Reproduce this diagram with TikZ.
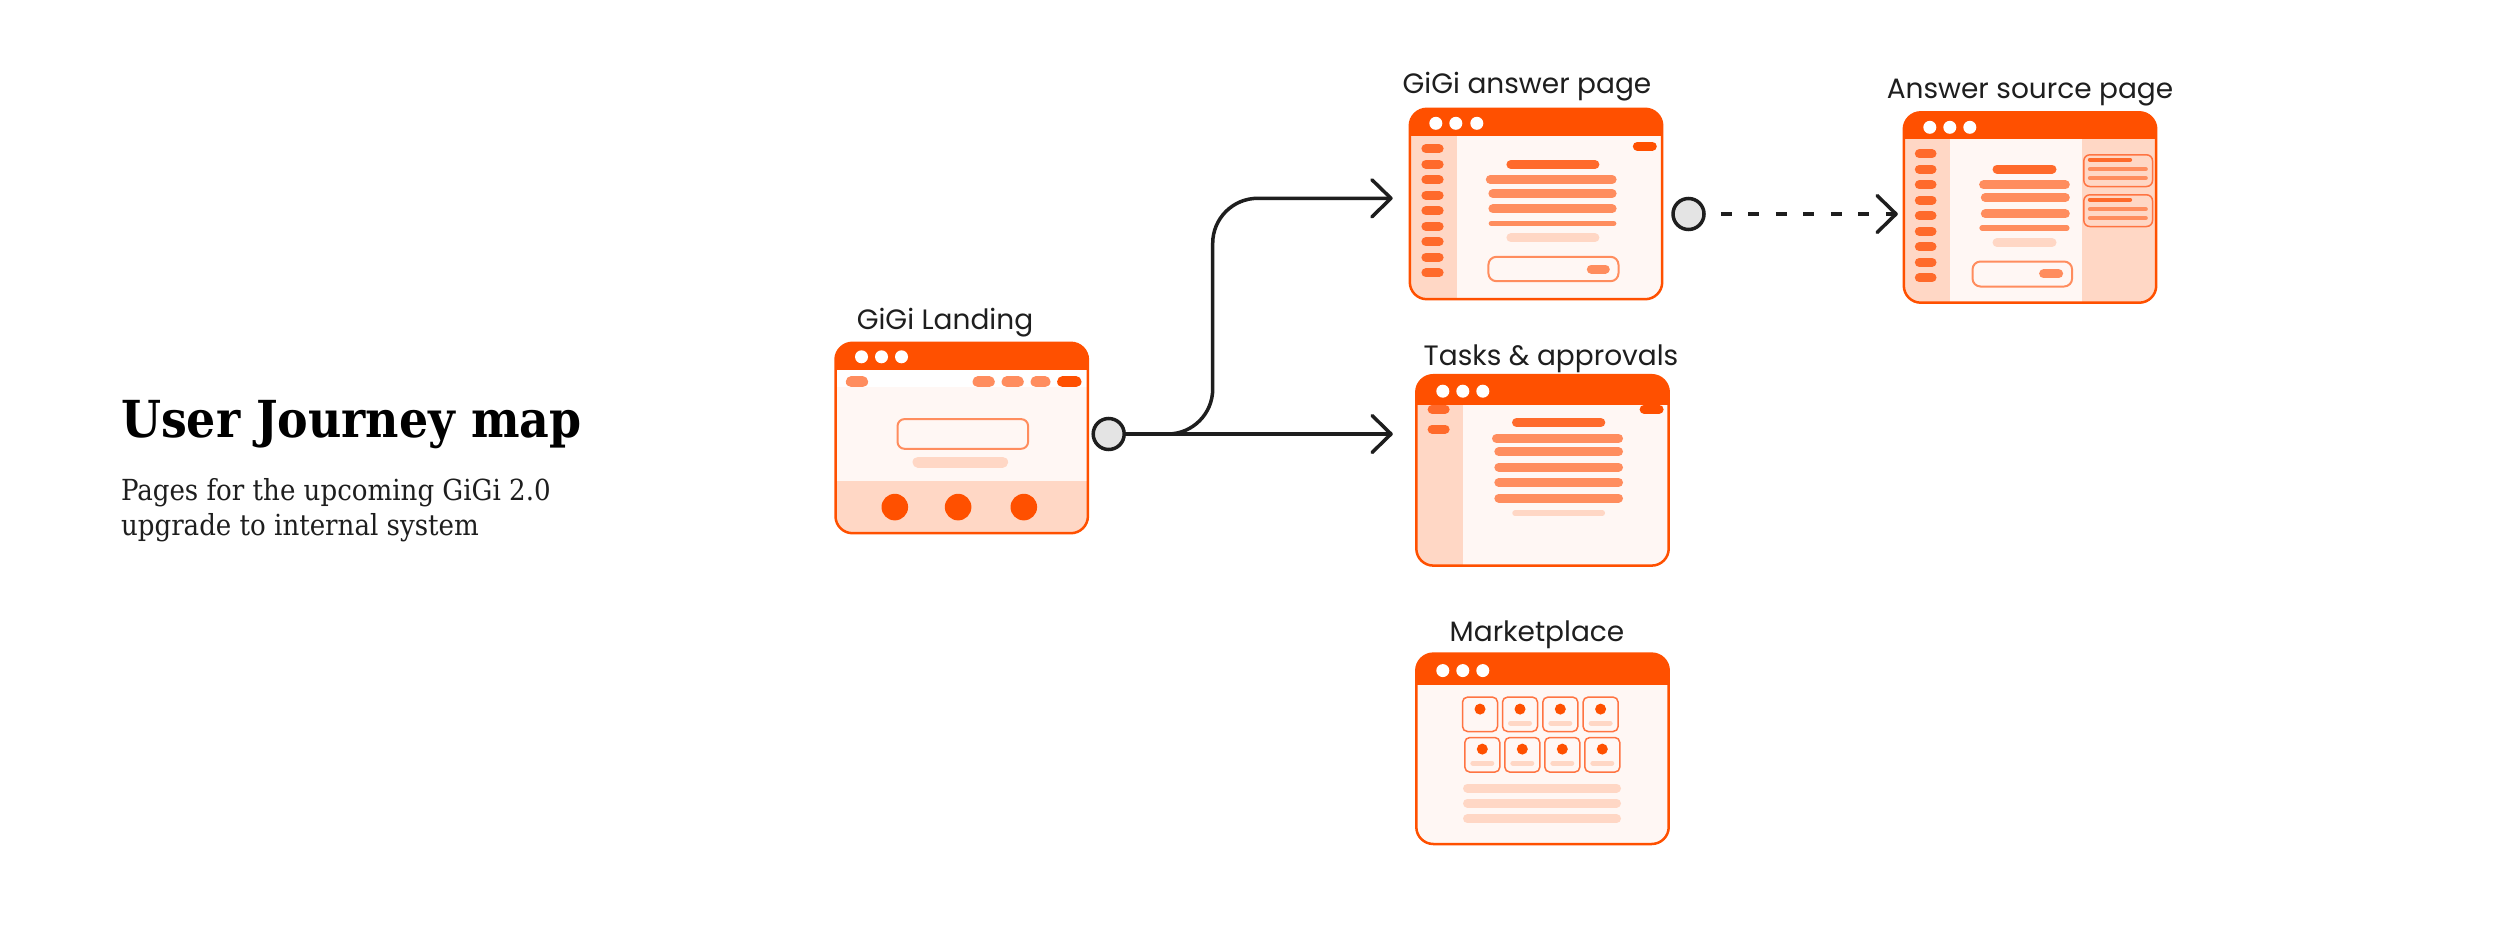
\documentclass[tikz,border=0pt]{standalone}
\usepackage{fontspec}
\setmainfont{Poppins}
\newfontfamily\headfont{DejaVu Serif Condensed}
\usetikzlibrary{arrows.meta, positioning}

\definecolor{brand}{HTML}{FF5000}
\definecolor{pilldark}{HTML}{FF6A2B}
\definecolor{pillmid}{HTML}{FF8D5E}
\definecolor{cardline}{HTML}{FF7442}
\definecolor{peach}{HTML}{FFD7C5}
\definecolor{paper}{HTML}{FFF7F4}
\definecolor{hubgrey}{HTML}{E4E4E4}
\definecolor{ink}{HTML}{1E1E1E}

\tikzstyle{page} = [rectangle, rounded corners=17pt, fill=paper, minimum width=252pt, minimum height=190pt, inner sep=0pt]
\tikzstyle{page-border} = [draw=brand, line width=2.5pt, rounded corners=17pt]
\tikzstyle{page-title} = [anchor=base, font=\fontsize{28}{30}\selectfont, text=ink]
\tikzstyle{hub} = [circle, draw=ink, line width=3.5pt, fill=hubgrey, minimum size=31pt, inner sep=0pt]
\tikzstyle{flow} = [draw=ink, line width=3.5pt, -{Straight Barb[length=19pt, width=37pt, round]}]
\tikzstyle{flow-dashed} = [flow, dash pattern=on 11pt off 16.5pt]
\tikzstyle{pill} = [line cap=round, line width=9pt]
\tikzstyle{thin-pill} = [line cap=round, line width=5.5pt]
\tikzstyle{box} = [draw=pillmid, line width=2pt, fill=paper, rounded corners=8pt]

\begin{document}
\begin{tikzpicture}[x=1pt, y=-1pt]
        \fill[white] (0,0) rectangle (2500,931);
        \useasboundingbox (0,0) rectangle (2500,931);

        % heading
        \node[anchor=base west, font=\headfont\bfseries\fontsize{51}{55}\selectfont, text=black] (heading) at (117.5,437) {User Journey map};
        \node[anchor=base west, align=left, font=\headfont\fontsize{29}{35}\selectfont, text=ink] (subheading) at (117.5,535) {Pages for the upcoming GiGi 2.0\\upgrade to internal system};

        % GiGi landing
        \node[page] (landing) at (961.7,438) {};
        \node[page-title] (landing-title) at (945,329.3) {GiGi Landing};
        \begin{scope}[shift={(landing.north west)}]
                \clip[rounded corners=17pt] (0,0) rectangle (252,190);
                \fill[white] (0,27) rectangle (252,44);
                \fill[peach] (0,138) rectangle (252,190);
                \fill[brand] (0,0) rectangle (252,27);
                \foreach \dx in {26,46,66} \fill[white] (\dx,14) circle (6.5pt);
                \draw[pill, line width=11pt, pillmid] (15.8,39) -- (27.1,39);
                \foreach \a/\b in {142.5/153.8, 171.5/182.8, 200.5/209.5}
                        \draw[pill, line width=11pt, pillmid] (\a,39) -- (\b,39);
                \draw[pill, line width=11pt, brand] (227.1,39) -- (240.5,39);
                \draw[box, rounded corners=7pt] (62,76.3) rectangle (192.6,106);
                \draw[pill, line width=11pt, peach] (82.5,119.2) -- (167.1,119.2);
                \foreach \cx in {59.3,122.6,188.3} \fill[brand] (\cx,164.3) circle (13.3pt);
        \end{scope}
        \draw[page-border] (landing.north west) rectangle (landing.south east);

        % GiGi answer page
        \node[page] (answer) at (1536,204) {};
        \node[page-title] (answer-title) at (1527,93.3) {GiGi answer page};
        \begin{scope}[shift={(answer.north west)}]
                \clip[rounded corners=17pt] (0,0) rectangle (252,190);
                \fill[peach] (0,27) rectangle (47,190);
                \fill[brand] (0,0) rectangle (252,27);
                \foreach \dx in {26,46,67} \fill[white] (\dx,14.5) circle (6.5pt);
                \foreach \k in {0,...,8}
                        \draw[pill, pilldark] (16.1,{40+15.5*\k}) -- (29.3,{40+15.5*\k});
                \draw[pill, brand] (227.5,37.4) -- (242.5,37.4);
                \draw[pill, pilldark] (101.1,55.7) -- (185.1,55.7);
                \draw[pill, pillmid] (80.5,70.7) -- (202.3,70.7);
                \foreach \y in {84.7,100} \draw[pill, pillmid] (83.1,\y) -- (202.3,\y);
                \draw[thin-pill, pillmid] (81.6,114.7) -- (203.8,114.7);
                \draw[pill, peach] (101.1,129) -- (185.1,129);
                \draw[box] (78.6,148) rectangle (208.7,172.4);
                \draw[pill, pillmid] (181.5,160.2) -- (195.5,160.2);
        \end{scope}
        \draw[page-border] (answer.north west) rectangle (answer.south east);

        % answer source page
        \node[page] (source) at (2030,207.5) {};
        \node[page-title] (source-title) at (2030,98.3) {Answer source page};
        \begin{scope}[shift={(source.north west)}]
                \clip[rounded corners=17pt] (0,0) rectangle (252,190);
                \fill[peach] (0,27) rectangle (46,190);
                \fill[peach] (177.7,27) rectangle (252,190);
                \fill[brand] (0,0) rectangle (252,27);
                \foreach \dx in {26,46,66} \fill[white] (\dx,15) circle (6.5pt);
                \foreach \k in {0,...,8}
                        \draw[pill, pilldark] (15.5,{41.5+15.5*\k}) -- (28.2,{41.5+15.5*\k});
                \foreach \top in {42.5,82.5} {
                        \draw[cardline, line width=1.5pt, rounded corners=6pt] (180,\top) rectangle (248.7,\top+31.7);
                        \draw[line cap=round, line width=4pt, pilldark] (186,\top+5) -- (226.3,\top+5);
                        \draw[line cap=round, line width=4pt, pillmid] (186,\top+14.3) -- (242,\top+14.3);
                        \draw[line cap=round, line width=4pt, pillmid] (186,\top+23.3) -- (242,\top+23.3);
                }
                \draw[pill, pilldark] (93.2,56.8) -- (148.2,56.8);
                \draw[pill, pillmid] (79.8,72.5) -- (161.5,72.5);
                \foreach \y in {85.2,101.5} \draw[pill, pillmid] (81.5,\y) -- (161.5,\y);
                \draw[thin-pill, pillmid] (78.3,115.8) -- (163,115.8);
                \draw[pill, peach] (93.2,130.2) -- (148.2,130.2);
                \draw[box] (68.7,149.2) rectangle (168.3,174.2);
                \draw[pill, pillmid] (139.8,161.5) -- (154.8,161.5);
        \end{scope}
        \draw[page-border] (source.north west) rectangle (source.south east);

        % tasks & approvals
        \node[page] (tasks) at (1542.5,470.4) {};
        \node[page-title] (tasks-title) at (1551,365) {Tasks \& approvals};
        \begin{scope}[shift={(tasks.north west)}]
                \clip[rounded corners=17pt] (0,0) rectangle (252,190);
                \fill[peach] (0,30) rectangle (46.7,190);
                \foreach \y in {34,53.9} \draw[pill, pilldark] (15.8,\y) -- (28.8,\y);
                \draw[pill, brand] (227.8,34) -- (242.8,34);
                \fill[brand] (0,0) rectangle (252,30);
                \foreach \dx in {26.5,46.5,66.5} \fill[white] (\dx,16) circle (6.5pt);
                \draw[pill, pilldark] (100.2,47.3) -- (184.5,47.3);
                \draw[pill, pillmid] (80.2,63.3) -- (202.2,63.3);
                \foreach \y in {76.6,91.9,107.3,122.9} \draw[pill, pillmid] (82.5,\y) -- (202.2,\y);
                \draw[thin-pill, peach] (98.7,137.9) -- (186,137.9);
        \end{scope}
        \draw[page-border] (tasks.north west) rectangle (tasks.south east);

        % marketplace
        \node[page] (market) at (1542.5,748.8) {};
        \node[page-title] (market-title) at (1537,641.7) {Marketplace};
        \begin{scope}[shift={(market.north west)}]
                \clip[rounded corners=17pt] (0,0) rectangle (252,190);
                \fill[brand] (0,0) rectangle (252,31);
                \foreach \dx in {26.5,46.5,66.5} \fill[white] (\dx,17) circle (6.5pt);
                \foreach \left in {46.2,86.2,126.5,166.8} {
                        \draw[cardline, line width=1.5pt, fill=paper, rounded corners=5pt] (\left,43.5) rectangle (\left+35,77.9);
                        \fill[brand] (\left+17.5,55.5) circle (5.5pt);
                }
                \foreach \left in {86.2,126.5,166.8}
                        \draw[line cap=round, line width=5pt, peach] (\left+8,69.5) -- (\left+27,69.5);
                \foreach \left in {48.5,88.5,128.5,168.5} {
                        \draw[cardline, line width=1.5pt, fill=paper, rounded corners=5pt] (\left,83.9) rectangle (\left+35,118.5);
                        \fill[brand] (\left+17.5,95.5) circle (5.5pt);
                        \draw[line cap=round, line width=5pt, peach] (\left+8,109.5) -- (\left+27,109.5);
                }
                \foreach \y in {134.5,149.5,165.2} \draw[pill, peach] (51.2,\y) -- (200.2,\y);
        \end{scope}
        \draw[page-border] (market.north west) rectangle (market.south east);

        % connectors
        \node[hub] (landing-hub) at (1108.7,434) {};
        \node[hub] (answer-hub) at (1688.5,214) {};
        \coordinate (answer-in) at (1392.7,198.3);

        \draw[flow, rounded corners=45pt] (landing-hub.east) -| ([xshift=-180pt]answer-in) -- (answer-in);
        \draw[flow] (landing-hub.east) -- ([xshift=-23.5pt]tasks.west |- landing-hub);
        \draw[flow-dashed] ([xshift=15pt]answer-hub.east) -- ([xshift=-6pt]source.west |- answer-hub);
\end{tikzpicture}
\end{document}
